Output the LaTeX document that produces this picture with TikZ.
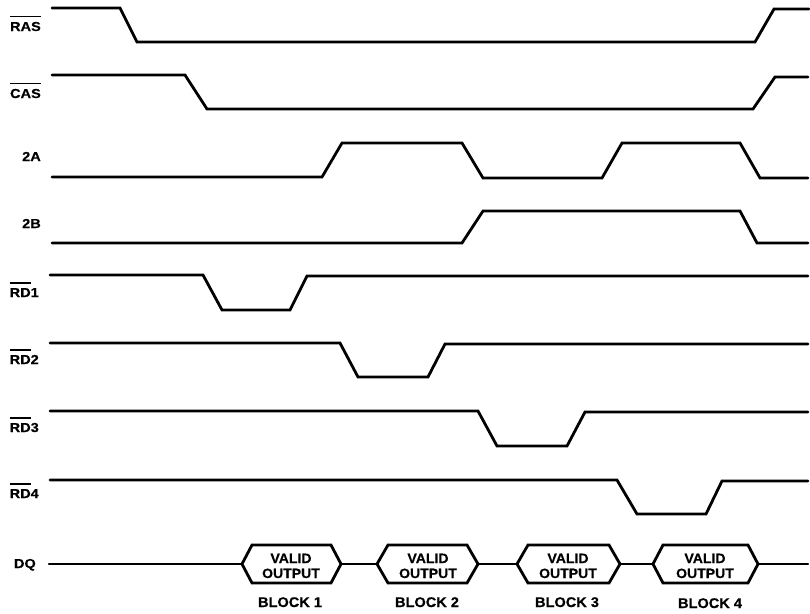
\documentclass[tikz,border=0pt]{standalone}
\usepackage{fontspec}
\setmainfont{Liberation Sans}
\newfontfamily\lblfont[FakeStretch=1.12,FakeBold=0.4]{Liberation Sans}
\newfontfamily\boxfont[FakeStretch=1.04,FakeBold=0.4]{Liberation Sans}
\newsavebox\myovbox
\newcommand\myovl[1]{\sbox\myovbox{#1}\rlap{\raisebox{\dimexpr\ht\myovbox+4.5pt\relax}{\rule{\wd\myovbox}{1.6pt}}}\usebox\myovbox}
\begin{document}
\begin{tikzpicture}[x=1pt,y=-1pt,
  sig/.style={line width=2.8pt, line cap=round, line join=miter},
  dq/.style={line width=2.2pt, line cap=round},
  hex/.style={line width=2.8pt, line join=miter},
  lab/.style={font=\lblfont\bfseries\fontsize{13}{13}\selectfont, anchor=base east, inner sep=0pt},
  vtxt/.style={font=\boxfont\bfseries\fontsize{13.5}{13.5}\selectfont, anchor=base, inner sep=0pt},
  btxt/.style={font=\boxfont\bfseries\fontsize{14}{14}\selectfont, anchor=base, inner sep=0pt}]
\useasboundingbox (0,0) rectangle (810,613);
% labels
\node[lab] (lras) at (41,31) {\myovl{RAS}};
\node[lab] (lcas) at (41,98) {\myovl{CAS}};
\node[lab] (l2a) at (41,161) {2A};
\node[lab] (l2b) at (41,228) {2B};
\node[lab] (lrd1) at (39,297) {\myovl{RD}1};
\node[lab] (lrd2) at (39,364) {\myovl{RD}2};
\node[lab] (lrd3) at (39,432) {\myovl{RD}3};
\node[lab] (lrd4) at (39,498) {\myovl{RD}4};
\node[lab] (ldq) at (36,568) {DQ};
% signals
\draw[sig] (52,8)--(120,8)--(137,42)--(755,42)--(774,9)--(809,9);
\draw[sig] (52,75)--(185,75)--(207,109)--(753,109)--(775,77)--(808,77);
\draw[sig] (52,177)--(322,177)--(342,143)--(462,143)--(483,178)--(602,178)--(622,143)--(740,143)--(760,178)--(808,178);
\draw[sig] (52,243)--(462,243)--(483,211)--(740,211)--(757,243)--(808,243);
\draw[sig] (50,275)--(203,275)--(222,310)--(290,310)--(307,276)--(808,276);
\draw[sig] (50,343)--(340,343)--(358,377)--(428,377)--(445,344)--(808,344);
\draw[sig] (50,411)--(478,411)--(497,446)--(567,446)--(585,412)--(808,412);
\draw[sig] (50,480)--(617,480)--(637,514)--(706,514)--(722,481)--(808,481);
% DQ
\coordinate (d0) at (49,564);
\coordinate (h1l) at (242,564); \coordinate (h1r) at (341,564);
\coordinate (h2l) at (377,564); \coordinate (h2r) at (478,564);
\coordinate (h3l) at (517,564); \coordinate (h3r) at (620,564);
\coordinate (h4l) at (653,564); \coordinate (h4r) at (758,564);
\coordinate (d9) at (808,564);
\draw[dq] (d0)--(h1l) (h1r)--(h2l) (h2r)--(h3l) (h3r)--(h4l) (h4r)--(d9);
\draw[hex] (h1l)--(252,545)--(331,545)--(h1r)--(331,583)--(252,583)--cycle;
\draw[hex] (h2l)--(388,545)--(467,545)--(h2r)--(467,583)--(388,583)--cycle;
\draw[hex] (h3l)--(528,545)--(609,545)--(h3r)--(609,583)--(528,583)--cycle;
\draw[hex] (h4l)--(663,545)--(748,545)--(h4r)--(748,583)--(663,583)--cycle;
\foreach \n/\x in {1/291,2/428,3/568,4/705} {
  \node[vtxt] (v\n) at (\x,563) {VALID};
  \node[vtxt] (o\n) at (\x,578) {OUTPUT};
}
\node[btxt] (b1) at (290,607) {BLOCK 1};
\node[btxt] (b2) at (427,607) {BLOCK 2};
\node[btxt] (b3) at (567,607) {BLOCK 3};
\node[btxt] (b4) at (710,608) {BLOCK 4};
\end{tikzpicture}
\end{document}
